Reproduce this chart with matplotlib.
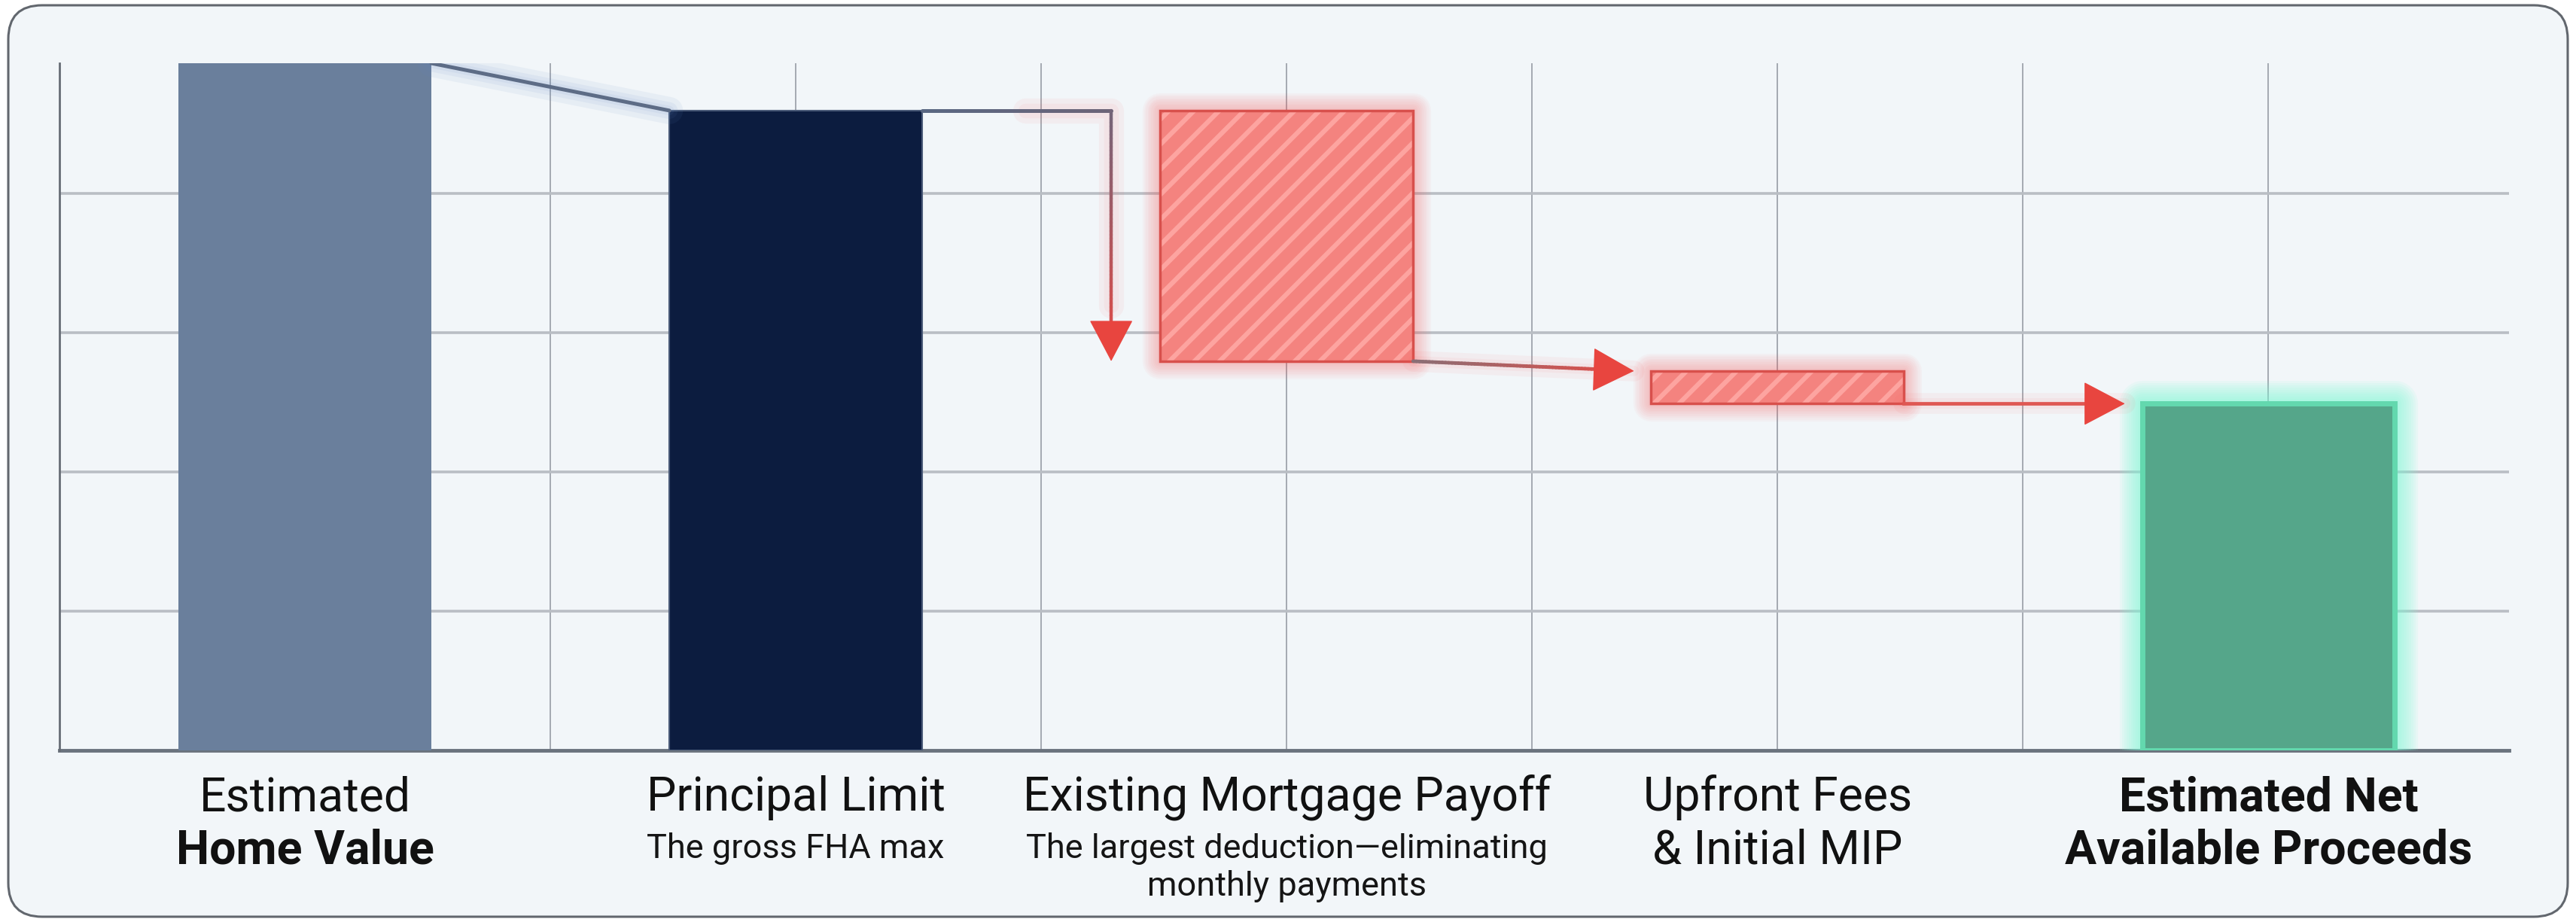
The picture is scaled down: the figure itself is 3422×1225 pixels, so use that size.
import numpy as np
import matplotlib.pyplot as plt
import matplotlib.transforms as mtrans
from matplotlib.patches import FancyBboxPatch, FancyArrowPatch
from matplotlib.collections import LineCollection
from matplotlib.colors import to_rgb

plt.rcParams['font.family'] = ['Roboto', 'DejaVu Sans']
plt.rcParams['hatch.linewidth'] = 4.5

# waterfall data (arbitrary units, gridline every 20)
positions = [1, 3, 5, 7, 9]
bar_bottoms = [0, 0, 55.9, 49.8, 0]
bar_tops = [98.7, 91.9, 91.9, 54.5, 49.8]
label_titles = ["Estimated\nHome Value", "Principal Limit", "Existing Mortgage Payoff",
                "Upfront Fees\n& Initial MIP", "Estimated Net\nAvailable Proceeds"]
label_notes = ["", "The gross FHA max", "The largest deduction\u2014eliminating\nmonthly payments", "", ""]

W, H = 3422, 1225
BAR_W = 1.03

slate = '#6a7f9c'
navy = '#0c1c3f'
red_fill = '#f4837f'
red_hatch = '#fda4a0'
red_edge = '#d8504c'
red_glow = '#ff5a5a'
arrow_red = '#e8453f'
green_fill = '#55a68a'
green_edge = '#63d8ae'
green_glow = '#80f7d6'

fig = plt.figure(figsize=(W / 100, H / 100), dpi=100)
fig.patch.set_facecolor('white')

# rounded card behind everything
bg = fig.add_axes([0, 0, 1, 1], zorder=0)
bg.set_xlim(0, W)
bg.set_ylim(0, H)
bg.axis('off')
bg.add_patch(FancyBboxPatch((11, 7), W - 22, H - 14, boxstyle='round,pad=0,rounding_size=45',
                            fc='#f2f6f9', ec='#62676e', lw=2.2))

ax = fig.add_axes([79 / W, 228 / H, (3333 - 79) / W, 913 / H], zorder=1)
ax.patch.set_visible(False)
ax.set_xlim(0, 9.98)
ax.set_ylim(0, 98.7)
ax.set_xticks(np.arange(0, 10))
ax.set_yticks([20, 40, 60, 80])
ax.tick_params(length=0, labelbottom=False, labelleft=False)
ax.set_axisbelow(True)
ax.grid(axis='y', color='#b9bec4', lw=2.6)
ax.grid(axis='x', color='#9ea4ac', lw=1.3)
for s in ['top', 'right']:
    ax.spines[s].set_visible(False)
ax.spines['left'].set_color('#666c75')
ax.spines['left'].set_linewidth(2)
ax.spines['bottom'].set_color('#6b737e')
ax.spines['bottom'].set_linewidth(3.5)
ax.spines['bottom'].set_zorder(1.5)


def glow(x, bottom, height, color, layers=10, max_lw=38, alpha=0.045):
    for k in range(layers, 0, -1):
        ax.bar(x, height, bottom=bottom, width=BAR_W, fc='none', ec=color,
               lw=max_lw * k / layers, alpha=alpha, joinstyle='round', zorder=2)


heights = [t - b for t, b in zip(bar_tops, bar_bottoms)]

# totals
ax.bar(positions[0], heights[0], bottom=bar_bottoms[0], width=BAR_W, color=slate, lw=0, zorder=3)
ax.bar(positions[1], heights[1], bottom=bar_bottoms[1], width=BAR_W, color=navy,
       ec='#4a5a78', lw=1.5, zorder=3)

# deductions: hatched red with glow
for i in (2, 3):
    glow(positions[i], bar_bottoms[i], heights[i], red_glow, max_lw=34, alpha=0.04)
    ax.bar(positions[i], heights[i], bottom=bar_bottoms[i], width=BAR_W, fc=red_fill,
           ec=red_hatch, hatch='/', lw=0, zorder=3)
    ax.bar(positions[i], heights[i], bottom=bar_bottoms[i], width=BAR_W, fc='none',
           ec=red_edge, lw=2.5, zorder=3.1)

# result: green with mint glow
glow(positions[4], bar_bottoms[4], heights[4], green_glow, layers=10, max_lw=44, alpha=0.09)
ax.bar(positions[4], heights[4], bottom=bar_bottoms[4], width=BAR_W, fc=green_fill,
       ec=green_edge, lw=5, zorder=3)

half = BAR_W / 2


def glow_line(xs, ys, color, widths=(26, 16, 9), alpha=0.08):
    for w_ in widths:
        ax.plot(xs, ys, color=color, lw=w_, alpha=alpha, solid_capstyle='round', zorder=3.5)


def gradient_line(xs, ys, c0, c1, lw, n=60):
    t = np.linspace(0, 1, n)
    px = np.interp(t, [0, 1], xs)
    py = np.interp(t, [0, 1], ys)
    pts = np.column_stack([px, py]).reshape(-1, 1, 2)
    segs = np.concatenate([pts[:-1], pts[1:]], axis=1)
    a, b = np.array(to_rgb(c0)), np.array(to_rgb(c1))
    cols = [a + (b - a) * tt for tt in t[:-1]]
    ax.add_collection(LineCollection(segs, colors=cols, lw=lw, capstyle='round', zorder=4))


def head(x0, y0, x1, y1):
    ax.add_patch(FancyArrowPatch((x0, y0), (x1, y1), arrowstyle='-|>,head_length=37,head_width=19.5',
                                 mutation_scale=1, color=arrow_red, lw=1, shrinkA=0, shrinkB=0,
                                 zorder=4.2))


# connector 1: home value -> principal limit (diagonal)
x_a, x_b = positions[0] + half, positions[1] - half
glow_line([x_a, x_b], [bar_tops[0], bar_tops[1]], '#5f86c4')
ax.plot([x_a, x_b], [bar_tops[0], bar_tops[1]], color='#5d6c86', lw=3.6,
        solid_capstyle='round', zorder=4)

# connector 2: principal limit -> payoff (elbow arrow)
x_c = positions[1] + half
x_turn = positions[2] - half - 0.2
glow_line([x_turn - 0.35, x_turn, x_turn], [bar_tops[1], bar_tops[1], bar_bottoms[2] + 8], red_glow,
          widths=(24, 14), alpha=0.06)
gradient_line([x_c, x_turn], [bar_tops[1], bar_tops[1]], '#5a6883', '#6c6478', 3.6)
gradient_line([x_turn, x_turn], [bar_tops[1], bar_bottoms[2] + 2], '#74657a', '#e24c48', 3.2)
head(x_turn, bar_bottoms[2] + 2.5, x_turn, bar_bottoms[2])

# connector 3: payoff -> fees
x_d = positions[2] + half
x_e = positions[3] - half - 0.07
glow_line([x_d, x_e], [bar_bottoms[2], bar_tops[3]], red_glow, widths=(20, 10), alpha=0.06)
gradient_line([x_d, x_e - 0.12], [bar_bottoms[2], bar_tops[3] + 0.2], '#8a6f76', '#d9504c', 3.4)
head(x_e - 0.16, bar_tops[3] + 0.2, x_e, bar_tops[3])

# connector 4: fees -> net proceeds
x_f = positions[3] + half
x_g = positions[4] - half - 0.07
glow_line([x_f, x_g], [bar_bottoms[3], bar_tops[4]], red_glow, widths=(20, 10), alpha=0.06)
ax.plot([x_f, x_g - 0.1], [bar_bottoms[3], bar_tops[4]], color='#df5753', lw=3.4, zorder=4)
head(x_g - 0.16, bar_tops[4], x_g, bar_tops[4])

# category labels below the axis
tr = mtrans.blended_transform_factory(ax.transData, fig.transFigure)
MAIN, SUB = 45, 32.5
for i, (title, note) in enumerate(zip(label_titles, label_notes)):
    lines = title.split('\n')
    y_px = 1077
    for j, line in enumerate(lines):
        bold = (i == len(label_titles) - 1) or (i == 0 and j == 1)
        ax.text(positions[i], 1 - y_px / H, line, transform=tr, ha='center', va='baseline',
                fontsize=MAIN, fontweight='bold' if bold else 'normal', color='#111111')
        y_px += 71
    if note:
        y_px = 1140
        for line in note.split('\n'):
            ax.text(positions[i], 1 - y_px / H, line, transform=tr, ha='center', va='baseline',
                    fontsize=SUB, color='#151515')
            y_px += 50

fig.savefig('out.png', dpi=100)
